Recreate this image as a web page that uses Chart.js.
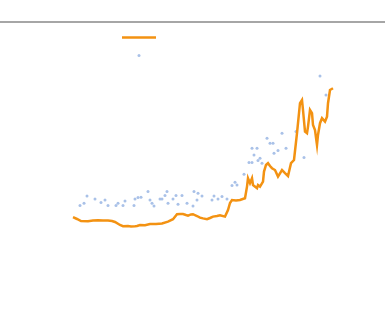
<!DOCTYPE html>
<html>
<head>
<meta charset="utf-8">
<title>chart</title>
<script src="https://cdn.jsdelivr.net/npm/chart.js@4/dist/chart.umd.min.js"></script>
<style>
  body { margin: 0; background: #fff; }
  canvas { display: block; }
</style>
</head>
<body>
<canvas id="chart" width="385" height="320"></canvas>
<script>
// ================= DATA =================
// line series: day index and value
const lineDays = [0, 4, 8, 15, 20, 25, 30, 35, 39, 42, 47, 50, 55, 58, 62, 64, 67, 72, 77, 83,
    89, 95, 100, 104, 107, 110, 113, 115, 118, 120, 124, 127, 130, 134, 137, 140, 144, 147, 152, 155,
    157, 159, 163, 167, 172, 174, 175, 177, 179, 180, 184, 185, 187, 190, 191, 193, 195, 197, 199, 202,
    205, 209, 212, 215, 218, 221, 224, 225, 227, 229, 230, 232, 234, 235, 237, 239, 240, 242, 244, 245,
    247, 249, 252, 254, 255, 257, 260];
const lineValues = [51.4, 50.5, 49.5, 49.4, 49.7, 49.9, 49.8, 49.7, 49.5, 49, 47.5, 46.9, 47, 46.8, 46.9, 47, 47.5, 47.4, 48, 48,
    48.3, 49.2, 50.4, 52.9, 53, 53, 52.5, 52.2, 52.8, 52.9, 52, 51.2, 50.8, 50.4, 51, 51.7, 52, 52.4, 51.7, 55,
    58.5, 60, 59.8, 60, 60.9, 66.7, 70.9, 68.4, 70.9, 67.5, 65.9, 67.5, 66.7, 69.2, 74.2, 77.5, 78.4, 77, 75.9, 75,
    71.7, 75, 73.4, 72, 78.4, 80, 93.4, 98.4, 108.4, 110, 105, 94.2, 93.4, 96.7, 105, 103.4, 97.5, 95, 87.5, 92.5,
    98.4, 100.9, 99.2, 101.7, 108.4, 115, 115.9];

// scatter series
const dotDays = [7, 11, 14, 22, 28, 32, 35, 43, 45, 50, 52, 61, 62, 65, 68, 75, 77, 79, 81, 87,
    89, 92, 94, 95, 100, 103, 105, 109, 114, 120, 121, 124, 125, 129, 139, 141, 145, 149, 154, 159,
    162, 164, 171, 176, 179, 179, 181, 184, 185, 187, 189, 194, 197, 200, 201, 205, 209, 213, 223, 231,
    247, 253];
const dotValues = [57.2, 58.4, 62, 60.5, 58.7, 60, 57.2, 57.2, 58.4, 57.2, 59.5, 57.2, 60.5, 61.3, 61.4, 64.2, 60, 58.4, 57, 60.5,
    60.5, 62.2, 64.2, 58.4, 60.5, 62.2, 57.9, 62.2, 58.4, 57, 64.2, 60, 63.4, 62, 60, 62, 60.5, 61.7, 60.5, 67.2,
    68.9, 67.5, 72.9, 78.7, 78.7, 85.9, 82.5, 85.9, 79.7, 80.9, 78.4, 90.9, 88.4, 88.4, 83.4, 84.7, 93.4, 85.9, 94.2, 81.2,
    122, 112.5];

const lineColor = "rgb(243, 146, 18)";
const dotColor = "#a9c1e8";

// ================= SMALL LEGEND =================
const miniLegend = {
    id: "miniLegend",
    afterDraw(chart) {
        const ctx = chart.ctx;
        ctx.save();
        ctx.strokeStyle = lineColor;
        ctx.lineWidth = 2.5;
        ctx.beginPath();
        ctx.moveTo(122, 37.5);
        ctx.lineTo(156, 37.5);
        ctx.stroke();

        ctx.fillStyle = dotColor;
        ctx.beginPath();
        ctx.arc(139, 55.5, 1.5, 0, Math.PI * 2);
        ctx.fill();
        ctx.restore();
    }
};

// ================= CHART =================
const ctx = document.getElementById("chart").getContext("2d");

new Chart(ctx, {
    type: "scatter",
    data: {
        datasets: [
            {
                type: "line",
                label: "line",
                data: lineDays.map((d, i) => ({ x: d, y: lineValues[i] })),
                borderColor: lineColor,
                borderWidth: 2.5,
                pointRadius: 0,
                tension: 0,
                fill: false
            },
            {
                label: "points",
                data: dotDays.map((d, i) => ({ x: d, y: dotValues[i] })),
                backgroundColor: dotColor,
                borderWidth: 0,
                pointRadius: 1.5
            }
        ]
    },
    options: {
        responsive: false,
        animation: false,
        layout: {
            autoPadding: false,
            padding: { top: 22, left: 0, right: 0, bottom: 0 }
        },
        plugins: {
            legend: { display: false },
            tooltip: { enabled: false }
        },
        scales: {
            x: {
                type: "linear",
                position: "top",
                min: -73,
                max: 312,
                ticks: { display: false },
                grid: { display: false, drawTicks: false, tickLength: 0 },
                border: { display: true, color: "#a6a6a6", width: 2 }
            },
            y: {
                display: false,
                min: 0,
                max: 149
            }
        }
    },
    plugins: [miniLegend]
});
</script>
</body>
</html>
